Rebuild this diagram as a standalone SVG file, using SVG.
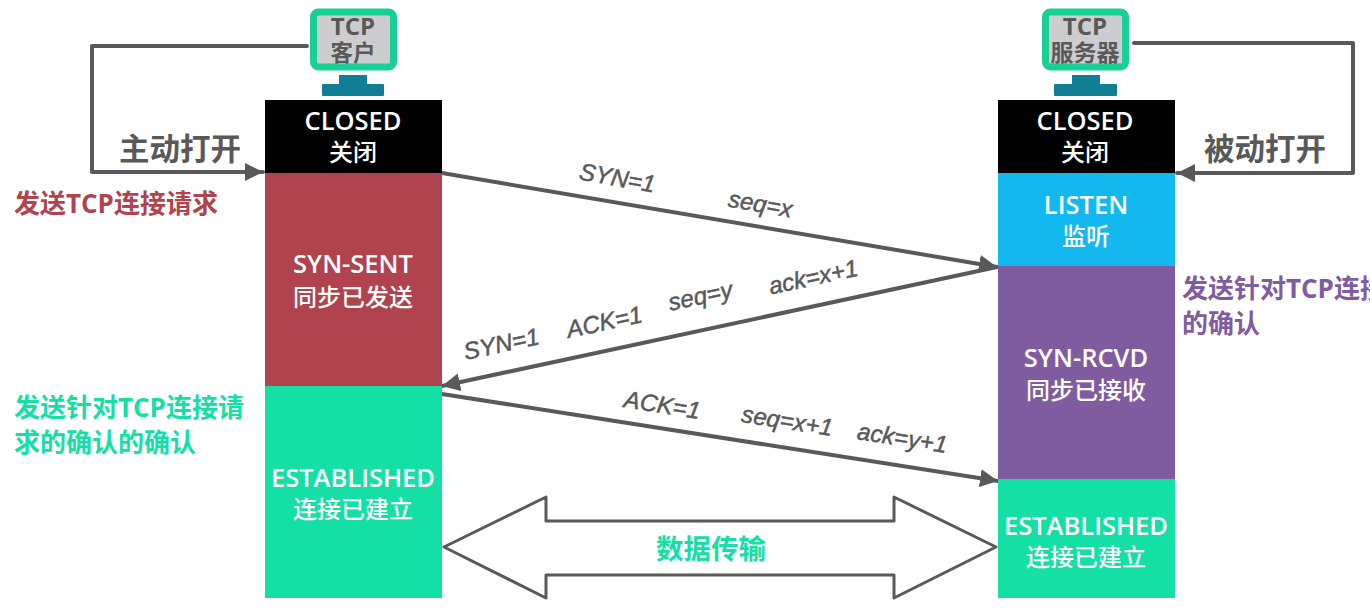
<svg xmlns="http://www.w3.org/2000/svg" width="1370" height="612" viewBox="0 0 1370 612">
<style>
.t{font-family:"Open Sans","Noto Sans CJK SC",sans-serif;font-weight:600;font-size:25.500px;fill:#fff;text-anchor:middle}
.c{font-family:"Noto Sans CJK SC",sans-serif;font-weight:500;font-size:24px;fill:#fff;text-anchor:middle}
.g{font-family:"Open Sans","Noto Sans CJK SC",sans-serif;font-weight:700;fill:#595959;text-anchor:middle}
.n{font-family:"Open Sans","Noto Sans CJK SC",sans-serif;font-weight:700;font-size:26px}
.a{font-family:"Liberation Sans",sans-serif;font-style:italic;font-size:24px;fill:#595959;stroke:#595959;stroke-width:.5;text-anchor:middle}
.l{fill:none;stroke:#595959;stroke-width:4;stroke-linejoin:round;stroke-linecap:round}
.scr{fill:#cdcdd0;stroke:#1acf95;stroke-width:7}
.st{fill:#117f93}
</style>
<defs>
<marker id="ah" markerUnits="userSpaceOnUse" markerWidth="20" markerHeight="18" refX="18" refY="9" orient="auto"><path d="M0 0L18 9L0 18z" fill="#595959"/></marker>
</defs>
<rect width="1370" height="612" fill="#fff"/>
<g id="connectors">
<path class="l" d="M307 46H92V172H263" marker-end="url(#ah)" id="open-active"/>
<path class="l" d="M1134 43H1353V173H1177" marker-end="url(#ah)" id="open-passive"/>
<path class="l" d="M442 173L997 267" marker-end="url(#ah)"/>
<path class="l" d="M997 267L442 386" marker-end="url(#ah)"/>
<path class="l" d="M442 394L998 481" marker-end="url(#ah)"/>
<path id="data" d="M444 547L546 497V521H894V497L996 547L894 598V575H546V598Z" fill="#fff" stroke="#595959" stroke-width="3" stroke-linejoin="round"/>
</g>
<g id="client"><rect class="scr" x="313.500" y="12" width="80" height="55" rx="5"/><rect class="st" x="339" y="75" width="28" height="10"/><rect class="st" x="322" y="84" width="62" height="12" rx="1"/><text class="g" font-size="24" x="353" y="35">TCP</text><text class="g" font-size="22.500" x="353" y="61">客户</text></g>
<g id="server"><rect class="scr" x="1045.500" y="12" width="80" height="55" rx="5"/><rect class="st" x="1072" y="75" width="28" height="10"/><rect class="st" x="1054" y="84" width="63" height="12" rx="1"/><text class="g" font-size="24" x="1085" y="35">TCP</text><text class="g" font-size="23" x="1085" y="61">服务器</text></g>
<g id="c-closed"><rect x="265" y="100" width="177" height="73" fill="#000"/><text class="t" x="353" y="130">CLOSED</text><text class="c" x="353" y="161">关闭</text></g>
<g id="c-synsent"><rect x="265" y="173" width="177" height="213" fill="#b0434d"/><text class="t" x="353" y="273">SYN-SENT</text><text class="c" x="353" y="306">同步已发送</text></g>
<g id="c-est"><rect x="265" y="386" width="177" height="212" fill="#14e0a6"/><text class="t" x="353" y="487">ESTABLISHED</text><text class="c" x="353" y="518">连接已建立</text></g>
<g id="s-closed"><rect x="998" y="100" width="177" height="73" fill="#000"/><text class="t" x="1085" y="130">CLOSED</text><text class="c" x="1085" y="161">关闭</text></g>
<g id="s-listen"><rect x="998" y="173" width="177" height="93" fill="#13b9ee"/><text class="t" x="1086" y="214">LISTEN</text><text class="c" x="1086" y="245">监听</text></g>
<g id="s-synrcvd"><rect x="998" y="266" width="177" height="213" fill="#7f5ba0"/><text class="t" x="1086" y="367">SYN-RCVD</text><text class="c" x="1086" y="399">同步已接收</text></g>
<g id="s-est"><rect x="998" y="479" width="177" height="119" fill="#14e0a6"/><text class="t" x="1086" y="535">ESTABLISHED</text><text class="c" x="1086" y="566">连接已建立</text></g>
<g id="labels">
<text class="g" font-size="30.500" x="180" y="160">主动打开</text>
<text class="g" font-size="30.500" x="1265" y="160">被动打开</text>
<text class="n" x="14" y="213" fill="#b0434d">发送TCP连接请求</text>
<text class="n" x="14" y="417" fill="#14e0a6">发送针对TCP连接请</text>
<text class="n" x="14" y="452" fill="#14e0a6">求的确认的确认</text>
<text class="n" x="1182" y="298" fill="#7f5ba0">发送针对TCP连接</text>
<text class="n" x="1182" y="333" fill="#7f5ba0">的确认</text>
<text class="n" x="711" y="559" fill="#14e0a6" text-anchor="middle" style="font-size:27.500px">数据传输</text>
<text class="a" transform="translate(616 186) rotate(10)">SYN=1</text>
<text class="a" transform="translate(759 212) rotate(10)">seq=x</text>
<text class="a" transform="translate(503 352) rotate(-12)">SYN=1</text>
<text class="a" transform="translate(606 330) rotate(-12)">ACK=1</text>
<text class="a" transform="translate(702 304) rotate(-12)">seq=y</text>
<text class="a" transform="translate(815 285) rotate(-12)">ack=x+1</text>
<text class="a" transform="translate(661 413) rotate(9)">ACK=1</text>
<text class="a" transform="translate(786 429) rotate(9)">seq=x+1</text>
<text class="a" transform="translate(901 446) rotate(9)">ack=y+1</text>
</g>
</svg>
